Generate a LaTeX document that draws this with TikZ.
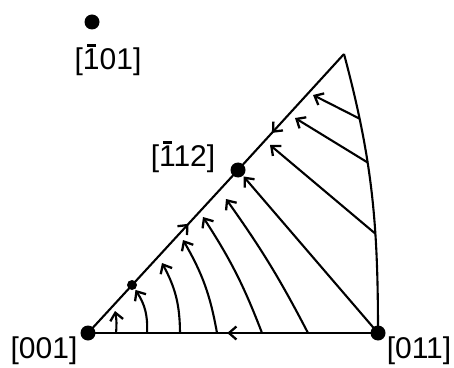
\documentclass[tikz,border=0pt]{standalone}
\usepackage{fontspec}
\setmainfont{Liberation Sans}
\usetikzlibrary{arrows.meta,decorations.markings}
\newcommand{\barone}{\makebox[0pt][l]{\hspace{0.14em}\rule[0.76em]{0.3em}{0.07em}}1}

\begin{document}
\begin{tikzpicture}[x=1pt,y=1pt,line width=2.1pt,line join=miter,
    >={Straight Barb[length=7.5pt,width=13pt,line width=2.3pt]},
    pole/.style={circle,fill,inner sep=0pt,minimum size=15pt},
    smallpole/.style={circle,fill,inner sep=0pt,minimum size=10pt},
    lbl/.style={font=\fontsize{30}{34}\selectfont,inner sep=0pt},
    flow/.style={->},
    midarrow/.style={postaction={decorate},
      decoration={markings,mark=at position #1 with {\arrow{>}}}}]
  \useasboundingbox (0,0) rectangle (454,367);
  % poles of the triangle
  \node[pole] (n001) at (88,34) {};
  \node[pole] (n011) at (378,34) {};
  \node[pole] (n112) at (238,197) {};
  \node[pole] (n101) at (92,345) {};
  \node[smallpole] (ndot) at (132,82) {};
  \coordinate (top) at (344,313);
  \node[lbl] (l001) at (44,16) {[001]};
  \node[lbl] (l011) at (419,16) {[011]};
  \node[lbl] (l112) at (183,210) {[\barone12]};
  \node[lbl] (l101) at (108,307) {[\barone01]};
  % sides
  \draw[midarrow=0.52] (n011.center) -- (n001.center);
  \draw[midarrow=0.67] (n001.center) -- (n112.center);
  \draw[midarrow=0.68] (top) -- (n112.center);
  \draw (n011.center) to[out=90,in=-75]
    coordinate[pos=0.34] (r1) coordinate[pos=0.615] (r2)
    coordinate[pos=0.78] (r3) (top);
  % flow lines from the base
  \coordinate (b1) at (116,34);
  \coordinate (b2) at (147,34);
  \coordinate (b3) at (180,34);
  \coordinate (b4) at (217,34);
  \coordinate (b5) at (262,34);
  \coordinate (b6) at (308,34);
  \coordinate (t1) at (115,56);
  \coordinate (t3) at (162,104);
  \coordinate (t4) at (183,127);
  \coordinate (t5) at (203,150);
  \coordinate (t6) at (226,168);
  \draw[flow] (b1) to[bend right=8] (t1);
  \draw[flow] (b2) to[bend right=18] (ndot);
  \draw[flow] (b3) to[bend right=14] (t3);
  \draw[flow] (b4) to[bend right=10] (t4);
  \draw[flow] (b5) to[bend right=6] (t5);
  \draw[flow] (b6) to[bend right=4] (t6);
  \draw[flow] (n011.center) -- (n112);
  % flow lines from the curved side
  \coordinate (t7) at (270,222);
  \coordinate (t8) at (295,249);
  \coordinate (t9) at (313,272);
  \draw[flow] (r1) -- (t7);
  \draw[flow] (r2) -- (t8);
  \draw[flow] (r3) -- (t9);
\end{tikzpicture}
\end{document}
